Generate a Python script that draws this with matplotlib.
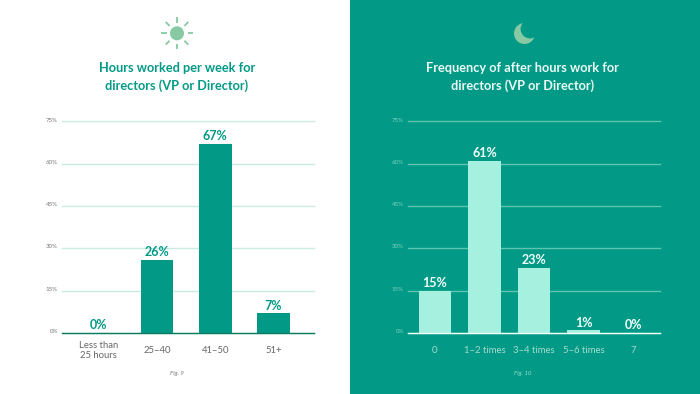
"""Two panel bar chart: hours worked and after hours work for directors."""

import matplotlib

matplotlib.use("Agg")
import matplotlib.pyplot as plt  # noqa: E402
from matplotlib.patches import Circle, Rectangle  # noqa: E402
from matplotlib.transforms import ScaledTranslation  # noqa: E402
import numpy as np  # noqa: E402

plt.rcParams["font.family"] = ["Lato", "DejaVu Sans"]

TEAL = "#029a86"
MINT = "#a5f0de"
ICON = "#86c9a3"

hours_labels = ["Less than\n25 hours", "25–40", "41–50", "51+"]
hours_values = [0, 26, 67, 7]
after_labels = ["0", "1–2 times", "3–4 times", "5–6 times", "7"]
after_values = [15, 61, 23, 1, 0]
y_ticks = [0, 15, 30, 45, 60, 75]
title_left = "Hours worked per week for\ndirectors (VP or Director)"
title_right = "Frequency of after hours work for\ndirectors (VP or Director)"

W, H = 700, 394
fig = plt.figure(figsize=(7, 3.94), dpi=100, facecolor="white")

# overlay in pixel coordinates for panel background, icons, titles
bg = fig.add_axes([0, 0, 1, 1], zorder=0)
bg.set_xlim(0, W)
bg.set_ylim(H, 0)
bg.set_axis_off()
bg.add_patch(Rectangle((350, 0), 350, H, facecolor=TEAL, edgecolor="none"))

# sun
bg.add_patch(Circle((177, 33.3), 7, facecolor=ICON, edgecolor="none"))
for a in np.arange(8) * np.pi / 4:
    bg.plot(
        [177 + 10.5 * np.cos(a), 177 + 16 * np.cos(a)],
        [33.3 + 10.5 * np.sin(a), 33.3 + 16 * np.sin(a)],
        color=ICON,
        lw=1.3,
        solid_capstyle="butt",
    )

# moon
bg.add_patch(Circle((524.5, 33.5), 10.5, facecolor=ICON, edgecolor="none"))
bg.add_patch(Circle((530, 29), 9.4, facecolor=TEAL, edgecolor="none"))

bg.text(177, 77, title_left, color=TEAL, fontsize=9.2, fontweight="bold",
        ha="center", va="center", linespacing=1.45)
bg.text(522.5, 77, title_right, color="#eafaf6", fontsize=9.2, fontweight="bold",
        ha="center", va="center", linespacing=1.45)
bg.text(177, 374, "Fig. 9", color="#777777", fontsize=4.4, style="italic",
        ha="center", va="center")
bg.text(522.5, 374, "Fig. 10", color="#9ad9cb", fontsize=4.4, style="italic",
        ha="center", va="center")


def panel(x0, x1, labels, values, xlim, width, bar, grid, base, val, tick, ytick):
    top, bottom = 121.5, 333.0
    ax = fig.add_axes(
        [x0 / W, 1 - bottom / H, (x1 - x0) / W, (bottom - top) / H], zorder=1
    )
    ax.patch.set_alpha(0)
    x = np.arange(len(values))
    ax.bar(x, values, width=width, color=bar, zorder=3)
    ax.set_xlim(*xlim)
    ax.set_ylim(0, 75)
    ax.set_yticks(y_ticks, [f"{t}%" for t in y_ticks])
    ax.set_xticks(x, labels)
    ax.grid(axis="y", color=grid, lw=1.0, zorder=1, clip_on=False)
    ax.set_axisbelow(True)
    for s in ["top", "left", "right"]:
        ax.spines[s].set_visible(False)
    ax.spines["bottom"].set_color(base)
    ax.spines["bottom"].set_linewidth(1.0)
    ax.spines["bottom"].set_zorder(4)
    ax.tick_params(axis="y", length=0, pad=3, labelsize=4.4, labelcolor=ytick)
    ax.tick_params(axis="x", length=0, pad=12.5, labelsize=6.8, labelcolor=tick)
    for lab in ax.get_xticklabels():
        lab.set_verticalalignment("center")
    # y labels sit a little above their gridline
    up = ScaledTranslation(0, 2 / 100, fig.dpi_scale_trans)
    for lab in ax.get_yticklabels():
        lab.set_transform(lab.get_transform() + up)
    for i, v in zip(x, values):
        ax.annotate(f"{v}%", (i, v), xytext=(0, 1.2), textcoords="offset points",
                    ha="center", va="bottom", color=val, fontsize=9,
                    fontweight="bold", zorder=5)


panel(62, 314, hours_labels, hours_values, (-0.628, 3.695), 0.56,
      TEAL, "#c8ece2", "#0b7a5e", TEAL, "#666666", "#777777")
panel(408, 660, after_labels, after_values, (-0.545, 4.545), 0.657,
      MINT, "#5cc4af", "#f2fffb", "#f2fffb", "#a5dccf", "#7fcfbd")

fig.savefig("out.png", dpi=100)
